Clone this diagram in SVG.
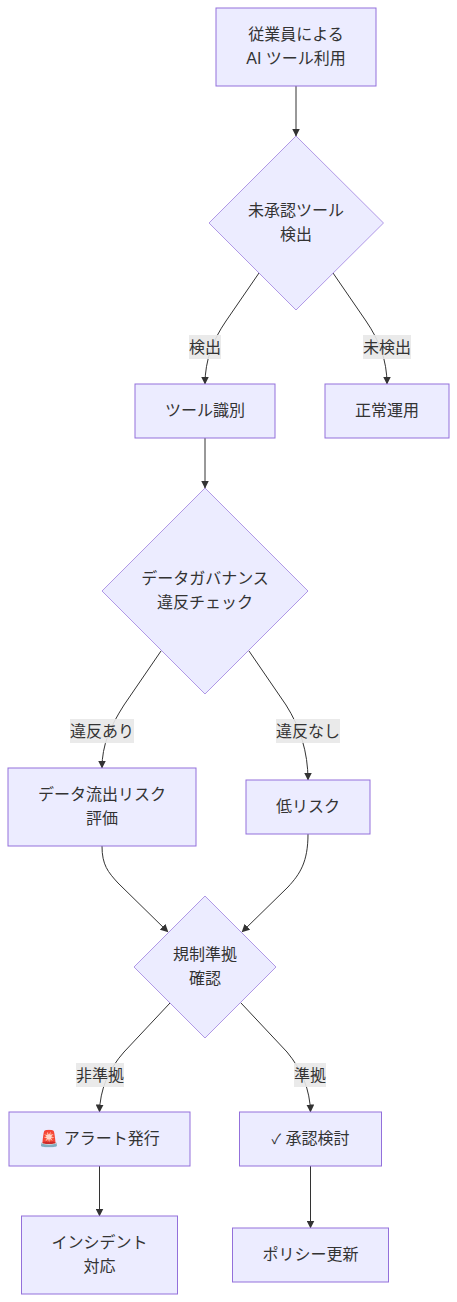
<svg xmlns="http://www.w3.org/2000/svg" width="457" height="1302" viewBox="0 0 457 1302">
<style>
text{font-family:"Liberation Sans","Noto Sans CJK JP",sans-serif;font-size:16px;fill:#333;text-anchor:middle}
.n{fill:#ececff;stroke:#9370db;stroke-width:1}
.d{stroke-opacity:.7}
.e{fill:none;stroke:#333;stroke-width:1}
.lb{fill:#e8e8e8;opacity:.9}
</style>
<defs><marker id="a" markerWidth="8" markerHeight="8" refX="7.500" refY="4" orient="auto" markerUnits="userSpaceOnUse" viewBox="0 0 8 8"><path d="M0 0L8 4L0 8z" fill="#333"/></marker></defs>
<rect width="457" height="1302" fill="#fff"/>
<g id="connectors">
<path class="e" marker-end="url(#a)" d="M296 86V136"/>
<path class="e" marker-end="url(#a)" d="M259 273L226 321C213 340 205 360 205 384"/>
<path class="e" marker-end="url(#a)" d="M333 273L366 321C379 340 387 360 387 384"/>
<path class="e" marker-end="url(#a)" d="M205 438V488"/>
<path class="e" marker-end="url(#a)" d="M161 651L124 705C110 727 102 745 102 768"/>
<path class="e" marker-end="url(#a)" d="M249 651L286 705C300 727 308 752 308 780"/>
<path class="e" marker-end="url(#a)" d="M102 846C102 865 108 872 118 883L168 932"/>
<path class="e" marker-end="url(#a)" d="M308 834C308 862 300 874 288 887L242 932"/>
<path class="e" marker-end="url(#a)" d="M170 1003L124 1052C108 1070 100 1090 99.500 1112"/>
<path class="e" marker-end="url(#a)" d="M241 1003L287 1052C302 1070 310 1090 310.500 1112"/>
<path class="e" marker-end="url(#a)" d="M99.500 1166V1216"/>
<path class="e" marker-end="url(#a)" d="M310.500 1166V1228"/>
</g>
<g id="edge-labels">
<g><rect class="lb" x="189" y="335" width="32" height="24"/><text x="205" y="353">検出</text></g>
<g><rect class="lb" x="363" y="335" width="48" height="24"/><text x="387" y="353">未検出</text></g>
<g><rect class="lb" x="70" y="719" width="64" height="24"/><text x="102" y="737">違反あり</text></g>
<g><rect class="lb" x="276" y="719" width="64" height="24"/><text x="308" y="737">違反なし</text></g>
<g><rect class="lb" x="76" y="1063" width="48" height="24"/><text x="100" y="1081">非準拠</text></g>
<g><rect class="lb" x="294" y="1063" width="32" height="24"/><text x="310" y="1081">準拠</text></g>
</g>
<g id="A"><rect class="n" x="216" y="8" width="160" height="78"/><text x="296" y="40">従業員による</text><text x="296" y="64">AI ツール利用</text></g>
<g id="B"><path class="n d" d="M296 136L383.500 223L296 310L209 223z"/><text x="296" y="216">未承認ツール</text><text x="296" y="240">検出</text></g>
<g id="C"><rect class="n" x="135" y="384" width="140" height="54"/><text x="205" y="416">ツール識別</text></g>
<g id="D"><rect class="n" x="325" y="384" width="124" height="54"/><text x="387" y="416">正常運用</text></g>
<g id="E"><path class="n d" d="M205 488L308 591L205 694L102 591z"/><text x="205" y="584">データガバナンス</text><text x="205" y="608">違反チェック</text></g>
<g id="F"><rect class="n" x="8" y="768" width="188" height="78"/><text x="102" y="800">データ流出リスク</text><text x="102" y="824">評価</text></g>
<g id="G"><rect class="n" x="246" y="780" width="124" height="54"/><text x="308" y="812">低リスク</text></g>
<g id="H"><path class="n d" d="M205 896L276 967L205 1038L134 967z"/><text x="205" y="960">規制準拠</text><text x="205" y="984">確認</text></g>
<g id="I"><rect class="n" x="9" y="1112" width="181" height="54"/><text x="99.500" y="1144">🚨 アラート発行</text></g>
<g id="J"><rect class="n" x="239.500" y="1112" width="142" height="54"/><text x="310.500" y="1144"><tspan font-size="14">✓</tspan> 承認検討</text></g>
<g id="K"><rect class="n" x="21.500" y="1216" width="156" height="78"/><text x="99.500" y="1248">インシデント</text><text x="99.500" y="1272">対応</text></g>
<g id="L"><rect class="n" x="232.500" y="1228" width="156" height="54"/><text x="310.500" y="1260">ポリシー更新</text></g>
</svg>
